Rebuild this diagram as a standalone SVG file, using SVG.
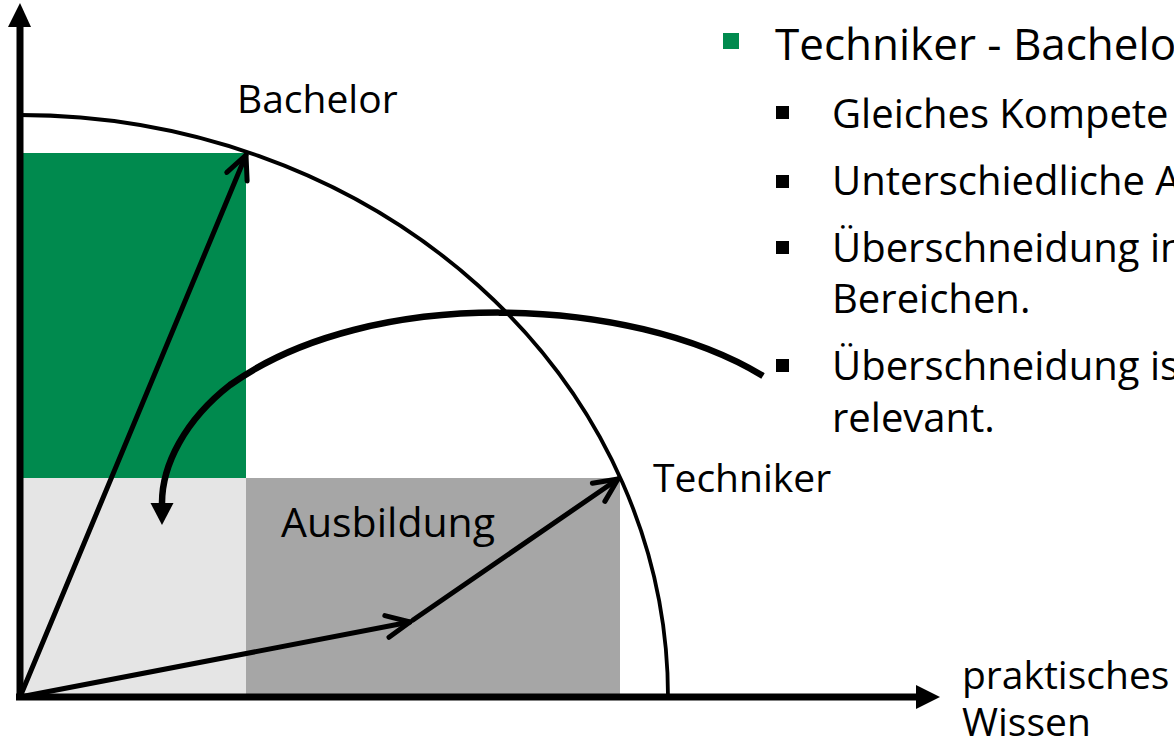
<svg xmlns="http://www.w3.org/2000/svg" width="1174" height="742" viewBox="0 0 1174 742">
<style>
.t{font-family:"Open Sans","Noto Sans","Liberation Sans",sans-serif;fill:#000}
.ax{stroke:#000;stroke-width:7;fill:none}
.vec{stroke:#000;stroke-width:5;fill:none;stroke-linecap:round}
</style>
<defs>
<marker id="chev" markerUnits="userSpaceOnUse" viewBox="-30 -16 34 32" refX="0" refY="0" markerWidth="34" markerHeight="32" orient="auto">
<path d="M-23.5,-11 L0,0 L-23.5,11" fill="none" stroke="#000" stroke-width="5" stroke-linejoin="round" stroke-linecap="round"/>
</marker>
<marker id="tri" markerUnits="userSpaceOnUse" viewBox="0 -13 24 26" refX="0" refY="0" markerWidth="24" markerHeight="26" orient="auto">
<path d="M0,-11.5 L22,0 L0,11.5 Z" fill="#000"/>
</marker>
</defs>
<rect width="1174" height="742" fill="#fff"/>
<g id="areas">
<rect x="20" y="153" width="226" height="325" fill="#008A4E"/>
<rect x="20" y="478" width="226" height="219" fill="#E5E5E5"/>
<rect x="246" y="478" width="374" height="219" fill="#A6A6A6"/>
</g>
<g id="frontier">
<path d="M20,115 A648,582 0 0 1 668,697" fill="none" stroke="#000" stroke-width="3.8"/>
</g>
<g id="axes">
<line x1="20" y1="700" x2="20" y2="24" class="ax"/>
<polygon points="8,27 31,27 20,3" fill="#000"/>
<line x1="16" y1="697" x2="918" y2="697" class="ax"/>
<polygon points="916,685 916,709 940,697" fill="#000"/>
</g>
<g id="connectors">
<line x1="20" y1="697" x2="246" y2="155" class="vec" marker-end="url(#chev)"/>
<line x1="20" y1="697" x2="410" y2="622" class="vec" marker-end="url(#chev)"/>
<line x1="413" y1="620" x2="618" y2="479" class="vec" marker-end="url(#chev)"/>
<path d="M763,376 C630,295 370,285 230,385 C185,420 162,465 162,503" fill="none" stroke="#000" stroke-width="6.5" marker-end="url(#tri)"/>
</g>
<g id="label-bachelor"><text class="t" x="237" y="113" font-size="39">Bachelor</text></g>
<g id="label-techniker"><text class="t" x="653" y="492" font-size="39">Techniker</text></g>
<g id="label-ausbildung"><text class="t" x="281" y="537" font-size="41">Ausbildung</text></g>
<g id="label-xaxis"><text class="t" x="962" y="689" font-size="39">praktisches</text><text class="t" x="962" y="736" font-size="39">Wissen</text></g>
<g id="bullets">
<rect x="723" y="33" width="16" height="16" fill="#008A4E"/>
<text class="t" x="775" y="60" font-size="44">Techniker - Bachelor</text>
<rect x="776" y="106" width="13" height="13" fill="#000"/>
<text class="t" x="832" y="128" font-size="40">Gleiches Kompete</text>
<rect x="776" y="175" width="13" height="13" fill="#000"/>
<text class="t" x="832" y="195" font-size="40">Unterschiedliche A</text>
<rect x="776" y="241" width="13" height="13" fill="#000"/>
<text class="t" x="832" y="262" font-size="40">Überschneidung in</text>
<text class="t" x="832" y="313" font-size="40">Bereichen.</text>
<rect x="776" y="359" width="13" height="13" fill="#000"/>
<text class="t" x="832" y="380" font-size="40">Überschneidung is</text>
<text class="t" x="832" y="432" font-size="40">relevant.</text>
</g>
</svg>
